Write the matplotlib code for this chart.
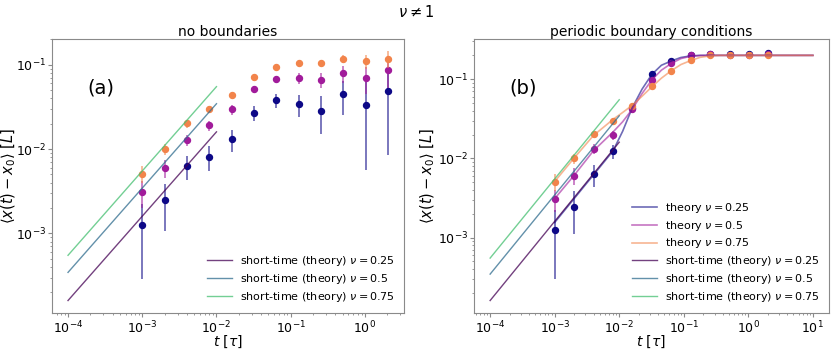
import numpy as np
import matplotlib
matplotlib.use("Agg")
import matplotlib.pyplot as plt

# sample times (tau)
t_data = [0.001, 0.002, 0.004, 0.008, 0.016, 0.032, 0.064, 0.128, 0.256, 0.512, 1.024, 2.048]
nus = [0.25, 0.5, 0.75]

# (a) no boundaries
free_mean = {
    0.25: [0.00126, 0.00248, 0.00626, 0.00816, 0.0131, 0.0270, 0.0380, 0.0342, 0.0286, 0.0448, 0.0337, 0.0483],
    0.5: [0.00308, 0.00598, 0.0129, 0.0191, 0.0296, 0.0513, 0.0676, 0.0697, 0.0664, 0.0789, 0.0695, 0.0857],
    0.75: [0.00512, 0.0100, 0.0202, 0.0298, 0.0442, 0.0708, 0.0930, 0.1056, 0.1050, 0.1166, 0.1094, 0.1177],
}
free_err = {
    0.25: [0.00097, 0.0014, 0.00197, 0.0027, 0.0039, 0.0054, 0.0073, 0.0100, 0.0137, 0.0195, 0.0280, 0.0397],
    0.5: [0.00107, 0.0015, 0.0019, 0.0027, 0.0040, 0.0050, 0.0060, 0.0100, 0.0130, 0.0180, 0.0250, 0.0320],
    0.75: [0.0012, 0.0015, 0.0022, 0.0020, 0.0030, 0.0040, 0.0050, 0.0060, 0.0070, 0.0130, 0.0200, 0.0260],
}

# (b) periodic boundary conditions
pbc_mean = {
    0.25: [0.00126, 0.00246, 0.00635, 0.0124, 0.0439, 0.1157, 0.1686, 0.203, 0.210, 0.208, 0.210, 0.217],
    0.5: [0.00304, 0.00605, 0.0131, 0.0197, 0.0419, 0.0990, 0.162, 0.203, 0.208, 0.203, 0.205, 0.208],
    0.75: [0.00508, 0.0100, 0.0201, 0.0299, 0.0461, 0.0809, 0.1285, 0.177, 0.2047, 0.202, 0.202, 0.202],
}
pbc_err = {
    0.25: [0.00096, 0.00136, 0.00196, 0.0025, 0.003, 0.004, 0.004, 0.004, 0.004, 0.005, 0.006, 0.007],
    0.5: [0.00092, 0.0015, 0.0019, 0.0027, 0.003, 0.004, 0.004, 0.004, 0.004, 0.004, 0.004, 0.004],
    0.75: [0.0012, 0.0015, 0.0015, 0.0015, 0.002, 0.002, 0.003, 0.003, 0.003, 0.003, 0.003, 0.003],
}

# theory curves for periodic case
t_theory = [0.001, 0.002, 0.004, 0.008, 0.0113, 0.016, 0.0226, 0.032, 0.045, 0.064, 0.09,
            0.128, 0.18, 0.256, 0.36, 0.512, 1.0, 2.0, 5.0, 10.0]
pbc_theory = {
    0.25: [0.00155, 0.0031, 0.0062, 0.0124, 0.022, 0.044, 0.075, 0.115, 0.150, 0.170, 0.188,
           0.197, 0.200, 0.200, 0.200, 0.200, 0.200, 0.200, 0.200, 0.200],
    0.5: [0.0031, 0.0061, 0.0125, 0.0215, 0.029, 0.042, 0.066, 0.098, 0.130, 0.158, 0.182,
          0.195, 0.199, 0.200, 0.200, 0.200, 0.200, 0.200, 0.200, 0.200],
    0.75: [0.0051, 0.0101, 0.0195, 0.031, 0.038, 0.047, 0.061, 0.080, 0.103, 0.128, 0.153,
           0.172, 0.189, 0.197, 0.200, 0.200, 0.200, 0.200, 0.200, 0.200],
}

# short-time asymptote  <x> ~ c * t
t_short = [1e-4, 1e-2]
short_coef = {0.25: 1.6, 0.5: 3.45, 0.75: 5.5}

pts_col = {0.25: plt.cm.plasma(0.0), 0.5: plt.cm.plasma(0.35), 0.75: plt.cm.plasma(0.7)}
short_col = {0.25: plt.cm.viridis(0.0), 0.5: plt.cm.viridis(0.35), 0.75: plt.cm.viridis(0.7)}


def style_axes(ax, ylab_x):
    for s in ax.spines.values():
        s.set_color("#8a8a8a")
    ax.tick_params(which="both", colors="#8a8a8a", labelcolor="black", labelsize=9)
    ax.tick_params(which="major", length=3, pad=1.5)
    ax.tick_params(which="minor", length=1.5)
    ax.set_xlabel(r"$t\ [\tau]$", fontsize=10)
    ax.set_ylabel(r"$\langle x(t)-x_0\rangle\ [L]$", fontsize=10.5)
    ax.xaxis.set_label_coords(0.5, -0.074)
    ax.yaxis.set_label_coords(ylab_x, 0.5)


fig = plt.figure(figsize=(8.31, 3.49), dpi=100)
axa = fig.add_axes([0.0626, 0.1032, 0.4236, 0.785])
axb = fig.add_axes([0.5704, 0.1032, 0.4272, 0.785])

for nu in nus:
    axa.errorbar(t_data, free_mean[nu], yerr=free_err[nu], fmt="none",
                 ecolor=pts_col[nu], elinewidth=1.4, alpha=0.55)
    axa.plot(t_data, free_mean[nu], "o", color=pts_col[nu], ms=4.3)
for nu in nus:
    axa.plot(t_short, [short_coef[nu] * t for t in t_short], color=short_col[nu], lw=1,
             alpha=0.75, label=r"short-time (theory) $\nu = %s$" % nu)

for nu in nus:
    axb.errorbar(t_data, pbc_mean[nu], yerr=pbc_err[nu], fmt="none",
                 ecolor=pts_col[nu], elinewidth=1.4, alpha=0.55)
    axb.plot(t_data, pbc_mean[nu], "o", color=pts_col[nu], ms=4.3)
for nu in nus:
    axb.plot(t_theory, pbc_theory[nu], color=pts_col[nu], lw=1.2, alpha=0.6,
             label=r"theory $\nu = %s$" % nu)
for nu in nus:
    axb.plot(t_short, [short_coef[nu] * t for t in t_short], color=short_col[nu], lw=1,
             alpha=0.75, label=r"short-time (theory) $\nu = %s$" % nu)

for ax, lab, ylx in [(axa, "(a)", -0.098), (axb, "(b)", -0.104)]:
    ax.set_xscale("log")
    ax.set_yscale("log")
    style_axes(ax, ylx)
    ax.text(0.10, 0.82, lab, transform=ax.transAxes, fontsize=14, va="center")
    ax.legend(loc="lower right", frameon=False, fontsize=8, handlelength=2.2,
              labelspacing=0.35, borderaxespad=0.4)

axa.set_title("no boundaries", fontsize=10, pad=2)
axb.set_title("periodic boundary conditions", fontsize=10, pad=2)
fig.text(0.5, 0.966, r"$\nu \neq 1$", fontsize=10.5, ha="center", va="center")

fig.savefig("out.png", dpi=100)
